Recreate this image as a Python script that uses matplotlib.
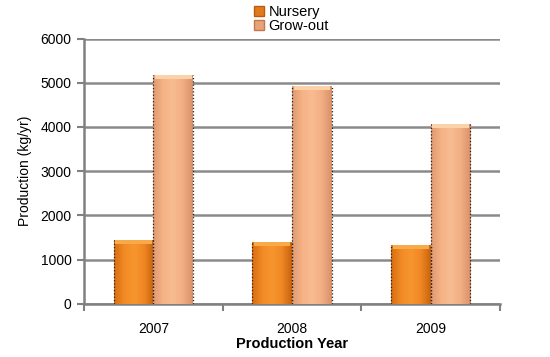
import numpy as np
import matplotlib
matplotlib.use("Agg")
import matplotlib.pyplot as plt
from matplotlib.colors import LinearSegmentedColormap
from matplotlib.patches import Patch

plt.rcParams['font.family'] = ['Liberation Sans', 'DejaVu Sans']

years = ["2007", "2008", "2009"]
series_names = ["Nursery", "Grow-out"]
nursery = [1440, 1390, 1320]
growout = [5170, 4920, 4070]
yticks = [0, 1000, 2000, 3000, 4000, 5000, 6000]

fig = plt.figure(figsize=(5.5, 3.57), dpi=100)
ax = fig.add_axes([0.153, 0.149, 0.756, 0.743])

x = np.arange(len(years))
w = 0.286
cmap_n = LinearSegmentedColormap.from_list("n", ["#D86E12", "#F28A25", "#F7962E", "#F08824", "#C9640E"])
cmap_g = LinearSegmentedColormap.from_list("g", ["#E09A72", "#F5B285", "#F8BC92", "#F2AE82", "#D9916A"])
grad = np.linspace(0, 1, 64).reshape(1, -1)

for vals, off, cmap, top, col in [(nursery, -w / 2, cmap_n, "#F8A94A", "#F08A25"),
                                  (growout, w / 2, cmap_g, "#FBD2A8", "#F4B085")]:
    bars = ax.bar(x + off, vals, width=w, color=col, edgecolor="none", zorder=3)
    for b in bars:
        x0, y0 = b.get_x(), b.get_y()
        bw, bh = b.get_width(), b.get_height()
        im = ax.imshow(grad, cmap=cmap, aspect="auto", extent=[x0, x0 + bw, y0, y0 + bh],
                       zorder=3, interpolation="bicubic")
        im.set_clip_path(b)
        ax.plot([x0, x0], [0, bh], ls=":", color="#222222", lw=0.9, zorder=4)
        ax.plot([x0 + bw, x0 + bw], [0, bh], ls=":", color="#222222", lw=0.9, zorder=4)
        ax.fill_between([x0 + bw * 0.04, x0 + bw * 0.96], bh - 90, bh, color=top, zorder=4, lw=0)

ax.set_xlim(-0.5, 2.5)
ax.set_ylim(0, 6000)
ax.set_yticks(yticks)
ax.set_yticklabels([str(v) for v in yticks], fontsize=10)
ax.set_xticks(x)
ax.set_xticklabels(years, fontsize=10)
ax.tick_params(axis='x', length=0, pad=13)
ax.set_xticks([-0.5, 0.5, 1.5, 2.5], minor=True)
ax.tick_params(axis='x', which='minor', length=5, color="#808080", width=1.5, direction='out')
ax.tick_params(axis='y', length=5, color="#808080", width=1.5, direction='out', pad=4)

ax.yaxis.grid(True, color="#8a8a8a", lw=1.8, zorder=1)
ax.set_axisbelow(True)
for s in ["top", "right"]:
    ax.spines[s].set_visible(False)
for s in ["left", "bottom"]:
    ax.spines[s].set_color("#808080")
    ax.spines[s].set_linewidth(1.8)

ax.set_ylabel("Production (kg/yr)", fontsize=10, labelpad=6)
ax.set_xlabel("Production Year", fontsize=10.5, fontweight="bold", labelpad=1)

handles = [Patch(facecolor="#E07A1C", edgecolor="#B85C10"),
           Patch(facecolor="#E8A378", edgecolor="#C07850")]
fig.legend(handles, series_names, loc="upper center", bbox_to_anchor=(0.53, 1.015),
           ncol=1, frameon=False, fontsize=10.5, handlelength=0.7, handleheight=0.7,
           handletextpad=0.3, labelspacing=0.0, borderpad=0.2)

fig.savefig("out.png", dpi=100)
